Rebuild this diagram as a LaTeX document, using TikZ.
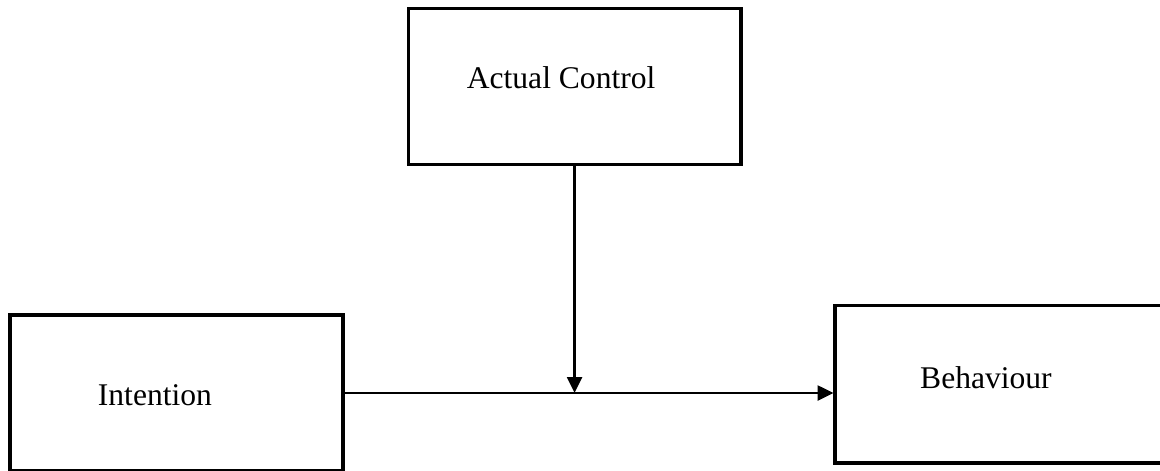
\documentclass[tikz,border=0pt]{standalone}
\usepackage{fontspec}
\setmainfont{Liberation Serif}
\usetikzlibrary{positioning,arrows.meta}

\begin{document}
\begin{tikzpicture}[x=0.38pt,y=0.38pt]

				\tikzstyle{every node}=[font=\fontsize{12}{14}\selectfont]
				\tikzstyle{box}=[rectangle,draw=black,line width=1.2pt,minimum width=126.5pt,minimum height=59.3pt]
				\tikzstyle{link}=[line width=1.1pt,-{Triangle[length=6pt,width=5.6pt]}]

				\useasboundingbox (0,0) rectangle (1160,470);
				\clip (0,0) rectangle (1160,470);

				\node[box] (intention) at (176.5,77) {};
				\node (intentionlabel) at ([shift={(-8.2pt,-0.8pt)}]intention.center) {Intention};

				\node[box, above right= 55.86pt and 23.56pt of intention] (actualcontrol) {};
				\node (actualcontrollabel) at ([shift={(-5.1pt,3.6pt)}]actualcontrol.center) {Actual Control};

				\node[box, right= 185.8pt of intention, yshift=3.4pt, minimum height=60pt] (behaviour) {};
				\node (behaviourlabel) at ([shift={(-5.9pt,2.3pt)}]behaviour.center) {Behaviour};

				\draw[link] (intention.east) -- (intention.east -| behaviour.west);
				\draw[link] (actualcontrol.south) -- (actualcontrol.south |- intention.east);

			\end{tikzpicture}
\end{document}
